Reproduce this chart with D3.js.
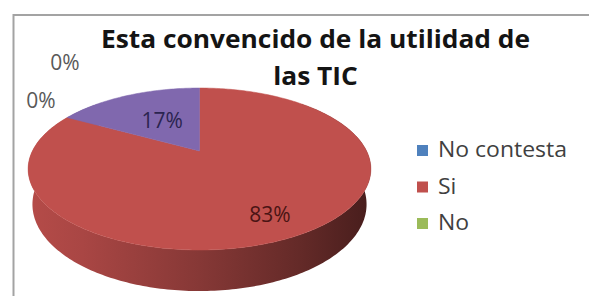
<!DOCTYPE html>
<html>
<head>
<meta charset="utf-8">
<script src="https://cdn.jsdelivr.net/npm/d3@7/dist/d3.min.js"></script>
<style>
  html, body { margin: 0; padding: 0; background: #ffffff; }
  svg { display: block; }
</style>
</head>
<body>
<svg id="chart" width="589" height="296"></svg>
<script>
// ---------------- DATA ----------------
const titleLines = ["Esta convencido de la utilidad de", "las TIC"];
const legendLabels = ["No contesta", "Si", "No"];
const sliceValues = [0, 83, 0, 17];
const sliceColors = ["#4f81bd", "#c0504d", "#9bbb59", "#8068ae"];
const labelColors = ["#595959", "#4a1414", "#595959", "#2b2450"];

// ---------------- LAYOUT ----------------
const W = 589, H = 296;
const svg = d3.select("#chart");
const defs = svg.append("defs");

// perspective parameters for the 3D disc
const cx = 199.5, cy = 151;
const sinE = 0.44, cosE = Math.sqrt(1 - sinE * sinE);
const L = 4.04, Fx = 675, Fy = 707, depthH = 0.225;

function proj(X, Y, Z) {
  const d = L - Y * sinE + Z * cosE;
  const up = Y * cosE + Z * sinE;
  return [cx + Fx * X / d, cy - Fy * up / d];
}
function rim(theta, Y, r = 1) {
  return proj(r * Math.sin(theta), Y, r * Math.cos(theta));
}

// frame
svg.append("rect")
  .attr("x", 13.5).attr("y", 15).attr("width", 620).attr("height", 320)
  .attr("fill", "none").attr("stroke", "#a3a3a3").attr("stroke-width", 2);

const pie = d3.pie().sort(null).value(d => d)(sliceValues);
const total = d3.sum(sliceValues);
const fmt = d3.format(".0%");
const line = d3.line();

// side-wall gradients (one per slice colour), darker to the right
const xLeft = rim(-Math.PI / 2, 0)[0], xRight = rim(Math.PI / 2, 0)[0];
const shadeStops = [[0, 0.06], [0.15, 0.12], [0.5, 0.3], [0.8, 0.48], [1, 0.62]];
sliceColors.forEach((c, i) => {
  const gr = defs.append("linearGradient")
    .attr("id", "side" + i)
    .attr("gradientUnits", "userSpaceOnUse")
    .attr("x1", xLeft).attr("x2", xRight).attr("y1", 0).attr("y2", 0);
  shadeStops.forEach(([o, k]) => {
    gr.append("stop").attr("offset", o).attr("stop-color", d3.interpolateRgb(c, "#000")(k));
  });
});

const g = svg.append("g");

// side wall for the front part of each slice
const frontA0 = Math.PI / 4, frontA1 = 7 * Math.PI / 4;
pie.forEach(d => {
  const a0 = Math.max(d.startAngle, frontA0), a1 = Math.min(d.endAngle, frontA1);
  if (d.value <= 0 || a1 <= a0) return;
  const n = Math.ceil((a1 - a0) / (Math.PI / 180));
  const topPts = [], botPts = [];
  for (let i = 0; i <= n; i++) {
    const t = a0 + (a1 - a0) * i / n;
    topPts.push(rim(t, 0));
    botPts.push(rim(t, -depthH));
  }
  g.append("path")
    .attr("d", line(topPts.concat(botPts.reverse())) + "Z")
    .attr("fill", `url(#side${d.index})`);
});

// top face slices
function topPath(d) {
  const pts = [proj(0, 0, 0)];
  const n = Math.max(2, Math.ceil((d.endAngle - d.startAngle) / (Math.PI / 180)));
  for (let i = 0; i <= n; i++) {
    const t = d.startAngle + (d.endAngle - d.startAngle) * i / n;
    pts.push(rim(t, 0));
  }
  return line(pts) + "Z";
}
g.selectAll("path.top").data(pie.filter(d => d.value > 0)).join("path")
  .attr("class", "top")
  .attr("d", topPath)
  .attr("fill", d => sliceColors[d.index])
  .attr("stroke", d => sliceColors[d.index])
  .attr("stroke-width", 0.5);

// data labels
const labelFont = "'Open Sans', sans-serif";
const labelRadius = [null, 0.75, null, 0.55];
const outsideLabelPos = { 0: [65, 70], 2: [41, 108] };
pie.forEach(d => {
  const txt = fmt(d.value / total);
  let x, y;
  if (d.value > 0) {
    const mid = (d.startAngle + d.endAngle) / 2;
    const p = rim(mid, 0, labelRadius[d.index]);
    x = p[0] + (d.index === 3 ? 5 : -4); y = p[1] + (d.index === 3 ? 10 : 13);
  } else {
    [x, y] = outsideLabelPos[d.index];
  }
  svg.append("text")
    .attr("x", x).attr("y", y)
    .attr("text-anchor", "middle")
    .attr("font-family", labelFont)
    .attr("font-size", 21)
    .attr("fill", labelColors[d.index])
    .text(txt);
});

// title
const titleFont = "'Open Sans', sans-serif";
const t1 = svg.append("text")
  .attr("x", 315.5).attr("y", 48)
  .attr("text-anchor", "middle")
  .attr("font-family", titleFont)
  .attr("font-weight", "bold")
  .attr("font-size", 25)
  .attr("fill", "#141414")
  .text(titleLines[0]);
const ratio = 429 / t1.node().getComputedTextLength();
t1.attr("textLength", 429).attr("lengthAdjust", "spacingAndGlyphs");
const t2 = svg.append("text")
  .attr("x", 315.5).attr("y", 85)
  .attr("text-anchor", "middle")
  .attr("font-family", titleFont)
  .attr("font-weight", "bold")
  .attr("font-size", 25)
  .attr("fill", "#141414")
  .text(titleLines[1]);
t2.attr("textLength", t2.node().getComputedTextLength() * ratio).attr("lengthAdjust", "spacingAndGlyphs");

// legend
const legendY = d3.scalePoint().domain(legendLabels).range([157, 230]);
const leg = svg.append("g");
let legRatio = 1;
legendLabels.forEach((lab, i) => {
  const y = legendY(lab);
  leg.append("rect")
    .attr("x", 417).attr("y", y - 12).attr("width", 11).attr("height", 11)
    .attr("fill", sliceColors[i]);
  const t = leg.append("text")
    .attr("x", 438).attr("y", y)
    .attr("font-family", "'Open Sans', sans-serif")
    .attr("font-size", 22)
    .attr("fill", "#404040")
    .text(lab);
  if (i === 0) legRatio = 129 / t.node().getComputedTextLength();
  t.attr("textLength", t.node().getComputedTextLength() * legRatio).attr("lengthAdjust", "spacingAndGlyphs");
});
</script>
</body>
</html>
